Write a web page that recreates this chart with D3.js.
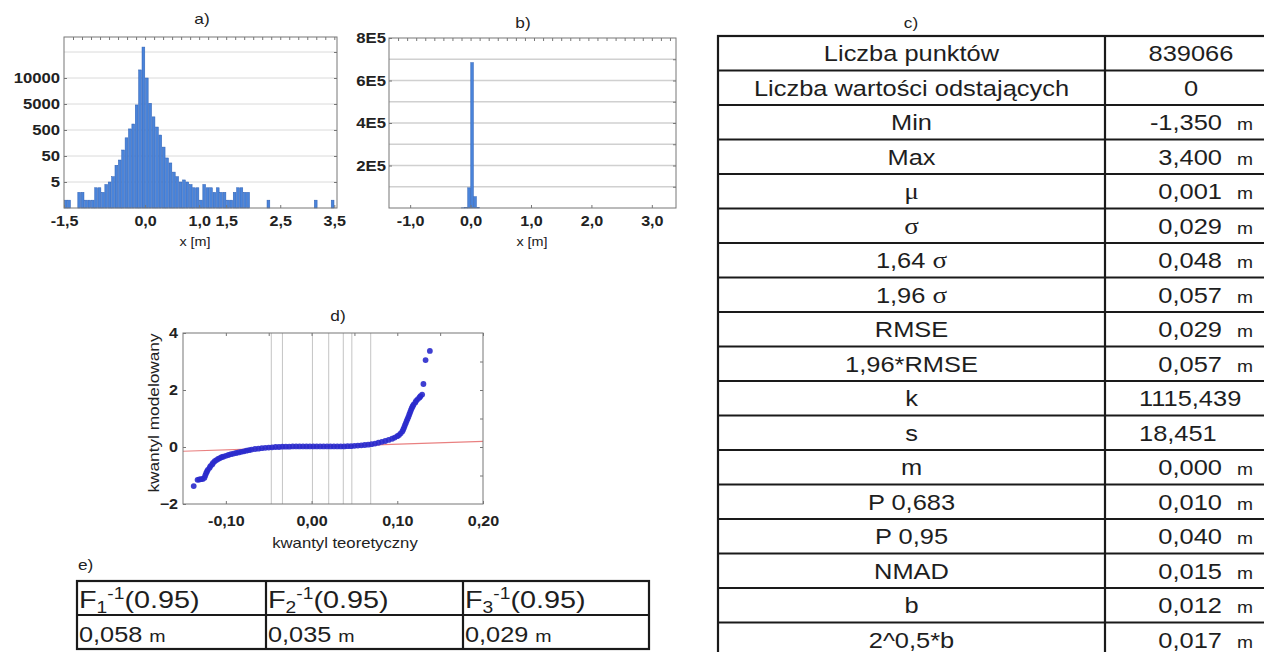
<!DOCTYPE html>
<html>
<head>
<meta charset="utf-8">
<script src="https://cdn.jsdelivr.net/npm/d3@7/dist/d3.min.js"></script>
<style>
body { margin: 0; background: #fff; }
svg { font-family: "Liberation Sans", Arial, sans-serif; }
</style>
</head>
<body>
<svg id="fig" width="1264" height="652"></svg>
<script>
// ---- a) histogram of x [m], bins of 0.0625 from -1.5 (odd log-like count axis)
var binStartA = -1.5, binWidthA = 0.0625;
var countsA = [1, 1, 0, 0, 2, 2, 1, 1, 1, 3,
               3, 2, 4, 5, 8, 22, 35, 85, 250, 550,
               850, 4600, 12400, 22800, 10000, 5100, 1600, 650, 320, 110,
               42, 27, 12, 8, 5, 6, 5, 4, 3, 3,
               1, 4, 3, 3, 2, 3, 2, 2, 1, 1,
               2, 3, 3, 2, 2, 0, 0, 0, 0, 0,
               1, 0, 0, 0, 0, 0, 0, 0, 0, 0,
               0, 0, 0, 0, 1, 0, 0, 0, 0, 1];
var levelsA = [0.5, 5, 50, 500, 5000, 10000, 20000];   // evenly spaced grid levels
var yTicksA = [5, 50, 500, 5000, 10000];
var xTicksA = [-1.5, 0, 1, 1.5, 2.5, 3.5];

// ---- b) same data, linear count axis
var binStartB = [-0.15, -0.1, -0.05, 0, 0.05, 0.1];
var binWidthB = 0.05;
var countsB = [800, 2500, 95000, 684000, 53000, 3000];
var xTicksB = [-1, 0, 1, 2, 3];
var yTicksB = [2e5, 4e5, 6e5, 8e5];
var gridB = [1e5, 2e5, 3e5, 4e5, 5e5, 6e5, 7e5];

// ---- c) statistics table
var statLabels = ["Liczba punktów", "Liczba wartości odstających", "Min", "Max", "μ", "σ",
                  "1,64 σ", "1,96 σ", "RMSE", "1,96*RMSE", "k", "s", "m",
                  "P 0,683", "P 0,95", "NMAD", "b", "2^0,5*b"];
var statValues = ["839066", "0", "-1,350", "3,400", "0,001", "0,029",
                  "0,048", "0,057", "0,029", "0,057", "1115,439", "18,451", "0,000",
                  "0,010", "0,040", "0,015", "0,012", "0,017"];
var statUnits = ["", "", "m", "m", "m", "m", "m", "m", "m", "m", "", "", "m", "m", "m", "m", "m", "m"];

// ---- d) Q-Q plot
var qqPoints = [
  [-0.1375, -1.37],
  [-0.133, -1.15], [-0.131, -1.14], [-0.129, -1.13], [-0.127, -1.12], [-0.125, -1.08],
  [-0.124, -1.0], [-0.123, -0.92], [-0.122, -0.86], [-0.121, -0.80], [-0.119, -0.73],
  [-0.118, -0.67], [-0.116, -0.61], [-0.115, -0.56], [-0.113, -0.50], [-0.111, -0.46],
  [-0.109, -0.42], [-0.107, -0.39], [-0.105, -0.36], [-0.103, -0.34], [-0.100, -0.31],
  [-0.097, -0.28], [-0.094, -0.25], [-0.091, -0.23], [-0.088, -0.21], [-0.085, -0.19],
  [-0.082, -0.17], [-0.079, -0.15], [-0.076, -0.13], [-0.073, -0.11], [-0.070, -0.09],
  [-0.066, -0.07], [-0.062, -0.06], [-0.058, -0.04], [-0.054, -0.03], [-0.050, -0.02],
  [-0.046, -0.01], [-0.042, 0.0], [-0.038, 0.0], [-0.034, 0.01], [-0.030, 0.01],
  [-0.026, 0.01], [-0.022, 0.02], [-0.018, 0.02], [-0.014, 0.02], [-0.010, 0.02],
  [-0.006, 0.02], [-0.002, 0.02], [0.002, 0.02], [0.006, 0.02], [0.010, 0.02],
  [0.014, 0.02], [0.018, 0.02], [0.022, 0.02], [0.026, 0.02], [0.030, 0.02],
  [0.034, 0.02], [0.038, 0.02], [0.042, 0.03], [0.046, 0.03], [0.050, 0.04],
  [0.054, 0.05], [0.058, 0.06], [0.062, 0.07], [0.066, 0.08], [0.070, 0.10],
  [0.074, 0.12], [0.078, 0.15], [0.082, 0.18], [0.086, 0.21], [0.090, 0.25],
  [0.094, 0.29], [0.097, 0.33], [0.100, 0.38], [0.102, 0.42], [0.104, 0.48],
  [0.106, 0.55], [0.107, 0.62], [0.108, 0.69], [0.109, 0.77], [0.110, 0.84],
  [0.111, 0.92], [0.112, 0.99], [0.113, 1.06], [0.114, 1.14], [0.115, 1.22],
  [0.116, 1.30], [0.117, 1.37], [0.118, 1.43], [0.119, 1.49], [0.121, 1.56],
  [0.122, 1.62], [0.124, 1.68], [0.126, 1.74], [0.127, 1.78], [0.129, 1.84],
  [0.1305, 2.21], [0.133, 3.05], [0.138, 3.37]
];
var refLine = [[-0.15, -0.15], [0.2, 0.2]];
var markerLines = [-0.047, -0.034, 0.001, 0.020, 0.037, 0.047, 0.069];
var xTicksD = [-0.1, 0, 0.1, 0.2];
var yTicksD = [-2, 0, 2, 4];

// ---- e) quantile table
var quantIdx = ["1", "2", "3"];
var quantProb = "(0.95)";
var quantValues = ["0,058", "0,035", "0,029"];

var svg = d3.select("#fig");
var loc = d3.formatLocale({decimal: ",", thousands: "", grouping: [3], currency: ["", ""], minus: "-"});
var f1 = loc.format(".1f"), f2 = loc.format(".2f");
var barFill = "#4a84da", barEdge = "#2d5fb3";

// the scanned glyphs are wider than Liberation Sans; widen each text
function stretch(sel, k) {
  sel.each(function() {
    var len = this.getComputedTextLength();
    if (len > 0) d3.select(this).attr("textLength", len * k).attr("lengthAdjust", "spacingAndGlyphs");
  });
}

function styleAxis(g, size, weight) {
  g.attr("font-family", null).attr("font-size", size);
  g.select(".domain").remove();
  g.selectAll(".tick line").attr("stroke", "#777");
  g.selectAll(".tick text").attr("fill", "#222").attr("font-weight", weight);
  stretch(g.selectAll(".tick text"), 1.15);
}

function title(txt, x, y) {
  var t = svg.append("text").attr("x", x).attr("y", y).attr("text-anchor", "middle")
    .attr("font-size", 15).attr("fill", "#222").text(txt);
  stretch(t, 1.15);
}

// ================= a)
var A = {left: 64, right: 337, top: 37, bottom: 208};
var stepA = 26;
var xA = d3.scaleLinear().domain([-1.5, 3.55]).range([A.left, A.right]);
var yA = d3.scaleLinear().domain(levelsA.map(Math.log10))
  .range(levelsA.map(function(d, i) { return A.bottom - i * stepA; }));
var yAaxis = d3.scaleLinear().domain(levelsA)
  .range(levelsA.map(function(d, i) { return A.bottom - i * stepA; }));

var gA = svg.append("g");
gA.selectAll("line.grid").data(levelsA.slice(1)).join("line")
  .attr("x1", A.left).attr("x2", A.right)
  .attr("y1", function(d) { return yAaxis(d); }).attr("y2", function(d) { return yAaxis(d); })
  .attr("stroke", "#dadada").attr("stroke-width", 1);

var barsA = countsA.map(function(n, i) { return {x0: binStartA + i * binWidthA, n: n}; })
  .filter(function(d) { return d.n > 0; });
gA.selectAll("rect.bar").data(barsA).join("rect")
  .attr("x", function(d) { return xA(d.x0) + 0.3; })
  .attr("width", function(d) { return xA(d.x0 + binWidthA) - xA(d.x0) - 0.6; })
  .attr("y", function(d) { return yA(Math.log10(d.n)); })
  .attr("height", function(d) { return A.bottom - yA(Math.log10(d.n)); })
  .attr("fill", barFill).attr("stroke", barEdge).attr("stroke-width", 0.5);

gA.append("rect").attr("x", A.left).attr("y", A.top)
  .attr("width", A.right - A.left).attr("height", A.bottom - A.top)
  .attr("fill", "none").attr("stroke", "#777");

gA.append("g").attr("transform", "translate(0," + A.bottom + ")")
  .call(d3.axisBottom(xA).tickValues(xTicksA).tickFormat(f1).tickSize(-3).tickPadding(8))
  .call(styleAxis, 14, "bold");
gA.append("g").attr("transform", "translate(0," + A.top + ")")
  .call(d3.axisTop(xA).tickValues(d3.range(-1.5 + 1 / 6, 3.55, 1 / 6)).tickFormat("").tickSize(-3))
  .call(styleAxis, 10, "normal");
gA.append("g").attr("transform", "translate(" + A.left + ",0)")
  .call(d3.axisLeft(yAaxis).tickValues(yTicksA).tickFormat(d3.format("d")).tickSize(-3).tickPadding(4))
  .call(styleAxis, 14.5, "bold");
gA.append("g").attr("transform", "translate(" + A.right + ",0)")
  .call(d3.axisRight(yAaxis).tickValues(levelsA.slice(1)).tickFormat("").tickSize(-3))
  .call(styleAxis, 10, "normal");
title("a)", 202, 24);
stretch(svg.append("text").attr("x", 195).attr("y", 246).attr("text-anchor", "middle")
  .attr("font-size", 12.5).attr("fill", "#222").text("x [m]"), 1.15);

// ================= b)
var B = {left: 389, right: 676, top: 38, bottom: 208};
var xB = d3.scaleLinear().domain([-1.35, 3.4]).range([B.left, B.right]);
var yB = d3.scaleLinear().domain([0, 8e5]).range([B.bottom, B.top]);
var gB = svg.append("g");
gB.selectAll("line.grid").data(gridB).join("line")
  .attr("x1", B.left).attr("x2", B.right)
  .attr("y1", function(d) { return yB(d); }).attr("y2", function(d) { return yB(d); })
  .attr("stroke", "#d0d0d0").attr("stroke-width", 1.3);
gB.selectAll("rect.bar").data(binStartB).join("rect")
  .attr("x", function(d) { return xB(d) + 0.2; })
  .attr("width", function(d) { return xB(d + binWidthB) - xB(d) - 0.4; })
  .attr("y", function(d, i) { return yB(countsB[i]); })
  .attr("height", function(d, i) { return B.bottom - yB(countsB[i]); })
  .attr("fill", barFill).attr("stroke", barEdge).attr("stroke-width", 0.5);
gB.append("rect").attr("x", B.left).attr("y", B.top)
  .attr("width", B.right - B.left).attr("height", B.bottom - B.top)
  .attr("fill", "none").attr("stroke", "#777");
gB.append("g").attr("transform", "translate(0," + B.bottom + ")")
  .call(d3.axisBottom(xB).tickValues(xTicksB).tickFormat(f1).tickSize(-3).tickPadding(8))
  .call(styleAxis, 14, "bold");
gB.append("g").attr("transform", "translate(0," + B.top + ")")
  .call(d3.axisTop(xB).tickValues(d3.range(-1.2, 3.4, 0.15)).tickFormat("").tickSize(-3))
  .call(styleAxis, 10, "normal");
gB.append("g").attr("transform", "translate(" + B.left + ",0)")
  .call(d3.axisLeft(yB).tickValues(yTicksB).tickFormat(function(d) { return (d / 1e5) + "E5"; })
    .tickSize(-3).tickPadding(3))
  .call(styleAxis, 14.5, "bold");
gB.append("g").attr("transform", "translate(" + B.right + ",0)")
  .call(d3.axisRight(yB).tickValues(gridB).tickFormat("").tickSize(-3))
  .call(styleAxis, 10, "normal");
title("b)", 523, 28);
stretch(svg.append("text").attr("x", 532).attr("y", 246).attr("text-anchor", "middle")
  .attr("font-size", 12.5).attr("fill", "#222").text("x [m]"), 1.15);

// ================= d)
var D = {left: 183, right: 483, top: 333, bottom: 504};
var xD = d3.scaleLinear().domain([-0.15, 0.2]).range([D.left, D.right]);
var yD = d3.scaleLinear().domain([-2, 4]).range([D.bottom, D.top]);
var gD = svg.append("g");
gD.selectAll("line.marker").data(markerLines).join("line")
  .attr("x1", function(d) { return xD(d); }).attr("x2", function(d) { return xD(d); })
  .attr("y1", D.top).attr("y2", D.bottom)
  .attr("stroke", "#c4c4c4").attr("stroke-width", 1);
gD.append("path").datum(refLine)
  .attr("d", d3.line().x(function(d) { return xD(d[0]); }).y(function(d) { return yD(d[1]); }))
  .attr("stroke", "#e98080").attr("stroke-width", 1.2).attr("fill", "none");
gD.selectAll("circle").data(qqPoints).join("circle")
  .attr("cx", function(d) { return xD(d[0]); }).attr("cy", function(d) { return yD(d[1]); })
  .attr("r", 2.9).attr("fill", "#2a2acc").attr("fill-opacity", 0.9);
gD.append("rect").attr("x", D.left).attr("y", D.top)
  .attr("width", D.right - D.left).attr("height", D.bottom - D.top)
  .attr("fill", "none").attr("stroke", "#777");
gD.append("g").attr("transform", "translate(0," + D.bottom + ")")
  .call(d3.axisBottom(xD).tickValues(xTicksD).tickFormat(f2).tickSize(-3).tickPadding(12))
  .call(styleAxis, 14, "bold");
gD.append("g").attr("transform", "translate(0," + D.top + ")")
  .call(d3.axisTop(xD).tickValues(d3.range(-0.1, 0.2, 0.05)).tickFormat("").tickSize(-3))
  .call(styleAxis, 10, "normal");
gD.append("g").attr("transform", "translate(" + D.left + ",0)")
  .call(d3.axisLeft(yD).tickValues(yTicksD).tickFormat(d3.format("d")).tickSize(-3).tickPadding(5))
  .call(styleAxis, 14, "bold");
gD.append("g").attr("transform", "translate(" + D.right + ",0)")
  .call(d3.axisRight(yD).tickValues(d3.range(-1, 4, 1)).tickFormat("").tickSize(-3))
  .call(styleAxis, 10, "normal");
title("d)", 338, 321);
stretch(svg.append("text").attr("x", 345).attr("y", 548).attr("text-anchor", "middle")
  .attr("font-size", 14.5).attr("fill", "#222").text("kwantyl teoretyczny"), 1.15);
stretch(svg.append("text").attr("transform", "translate(159,413) rotate(-90)").attr("text-anchor", "middle")
  .attr("font-size", 15).attr("fill", "#222").text("kwantyl modelowany"), 1.15);

// ================= c) table
var T = {left: 718, mid: 1105, right: 1290, top: 36, row: 34.5};
var gT = svg.append("g");
title("c)", 911, 28);
statLabels.forEach(function(lab, i) {
  var y = T.top + i * T.row + 25;
  var t = gT.append("text").attr("x", (T.left + T.mid) / 2).attr("y", y)
    .attr("text-anchor", "middle").attr("font-size", 22.5).attr("fill", "#1e1e1e");
  lab.split(/([σμ])/).filter(function(s) { return s.length; }).forEach(function(s) {
    var sp = t.append("tspan").text(s);
    if (/[σμ]/.test(s)) sp.attr("font-family", "Liberation Serif").attr("font-size", 24);
  });
  stretch(t, 1.13);

  var v = gT.append("text").attr("y", y).attr("font-size", 22.5).attr("fill", "#1e1e1e").text(statValues[i]);
  if (statUnits[i]) {
    v.attr("x", 1222).attr("text-anchor", "end");
    stretch(gT.append("text").attr("x", 1237).attr("y", y).attr("font-size", 17)
      .attr("fill", "#1e1e1e").text(statUnits[i]), 1.13);
  } else if (statValues[i].indexOf(",") >= 0) {
    v.attr("x", 1139).attr("text-anchor", "start");
  } else {
    v.attr("x", 1191).attr("text-anchor", "middle");
  }
  stretch(v, 1.13);
});
gT.selectAll("line.row").data(d3.range(1, statLabels.length)).join("line")
  .attr("x1", T.left).attr("x2", T.right)
  .attr("y1", function(d) { return T.top + d * T.row; }).attr("y2", function(d) { return T.top + d * T.row; })
  .attr("stroke", "#1a1a1a").attr("stroke-width", 2.2);
gT.append("line").attr("x1", T.mid).attr("x2", T.mid).attr("y1", T.top).attr("y2", T.top + statLabels.length * T.row)
  .attr("stroke", "#1a1a1a").attr("stroke-width", 2.2);
gT.append("rect").attr("x", T.left).attr("y", T.top)
  .attr("width", T.right - T.left).attr("height", statLabels.length * T.row)
  .attr("fill", "none").attr("stroke", "#1a1a1a").attr("stroke-width", 2.2);

// ================= e) table
var E = {left: 77, top: 581, colW: [189, 197, 186], row: 34};
var gE = svg.append("g");
stretch(gE.append("text").attr("x", 78).attr("y", 570).attr("font-size", 15).attr("fill", "#222").text("e)"), 1.15);
var colX = [E.left];
E.colW.forEach(function(w, i) { colX.push(colX[i] + w); });
quantIdx.forEach(function(k, i) {
  var t = gE.append("text").attr("x", colX[i] + 2).attr("y", E.top + 27)
    .attr("font-size", 24).attr("fill", "#1e1e1e");
  t.append("tspan").text("F");
  t.append("tspan").attr("font-size", 16).attr("dy", 5).text(k);
  t.append("tspan").attr("font-size", 16).attr("dy", -14).text("-1");
  t.append("tspan").attr("dy", 9).text(quantProb);
  stretch(t, 1.2);
  var v = gE.append("text").attr("x", colX[i] + 2).attr("y", E.top + E.row + 27)
    .attr("font-size", 22).attr("fill", "#1e1e1e");
  v.append("tspan").text(quantValues[i] + " ");
  v.append("tspan").attr("font-size", 17).text("m");
  stretch(v, 1.15);
});
gE.append("rect").attr("x", E.left).attr("y", E.top)
  .attr("width", colX[3] - E.left).attr("height", 2 * E.row)
  .attr("fill", "none").attr("stroke", "#1a1a1a").attr("stroke-width", 2.2);
gE.append("line").attr("x1", E.left).attr("x2", colX[3]).attr("y1", E.top + E.row).attr("y2", E.top + E.row)
  .attr("stroke", "#1a1a1a").attr("stroke-width", 2.2);
gE.selectAll("line.col").data(colX.slice(1, 3)).join("line")
  .attr("x1", function(d) { return d; }).attr("x2", function(d) { return d; })
  .attr("y1", E.top).attr("y2", E.top + 2 * E.row)
  .attr("stroke", "#1a1a1a").attr("stroke-width", 2.2);
</script>
</body>
</html>
